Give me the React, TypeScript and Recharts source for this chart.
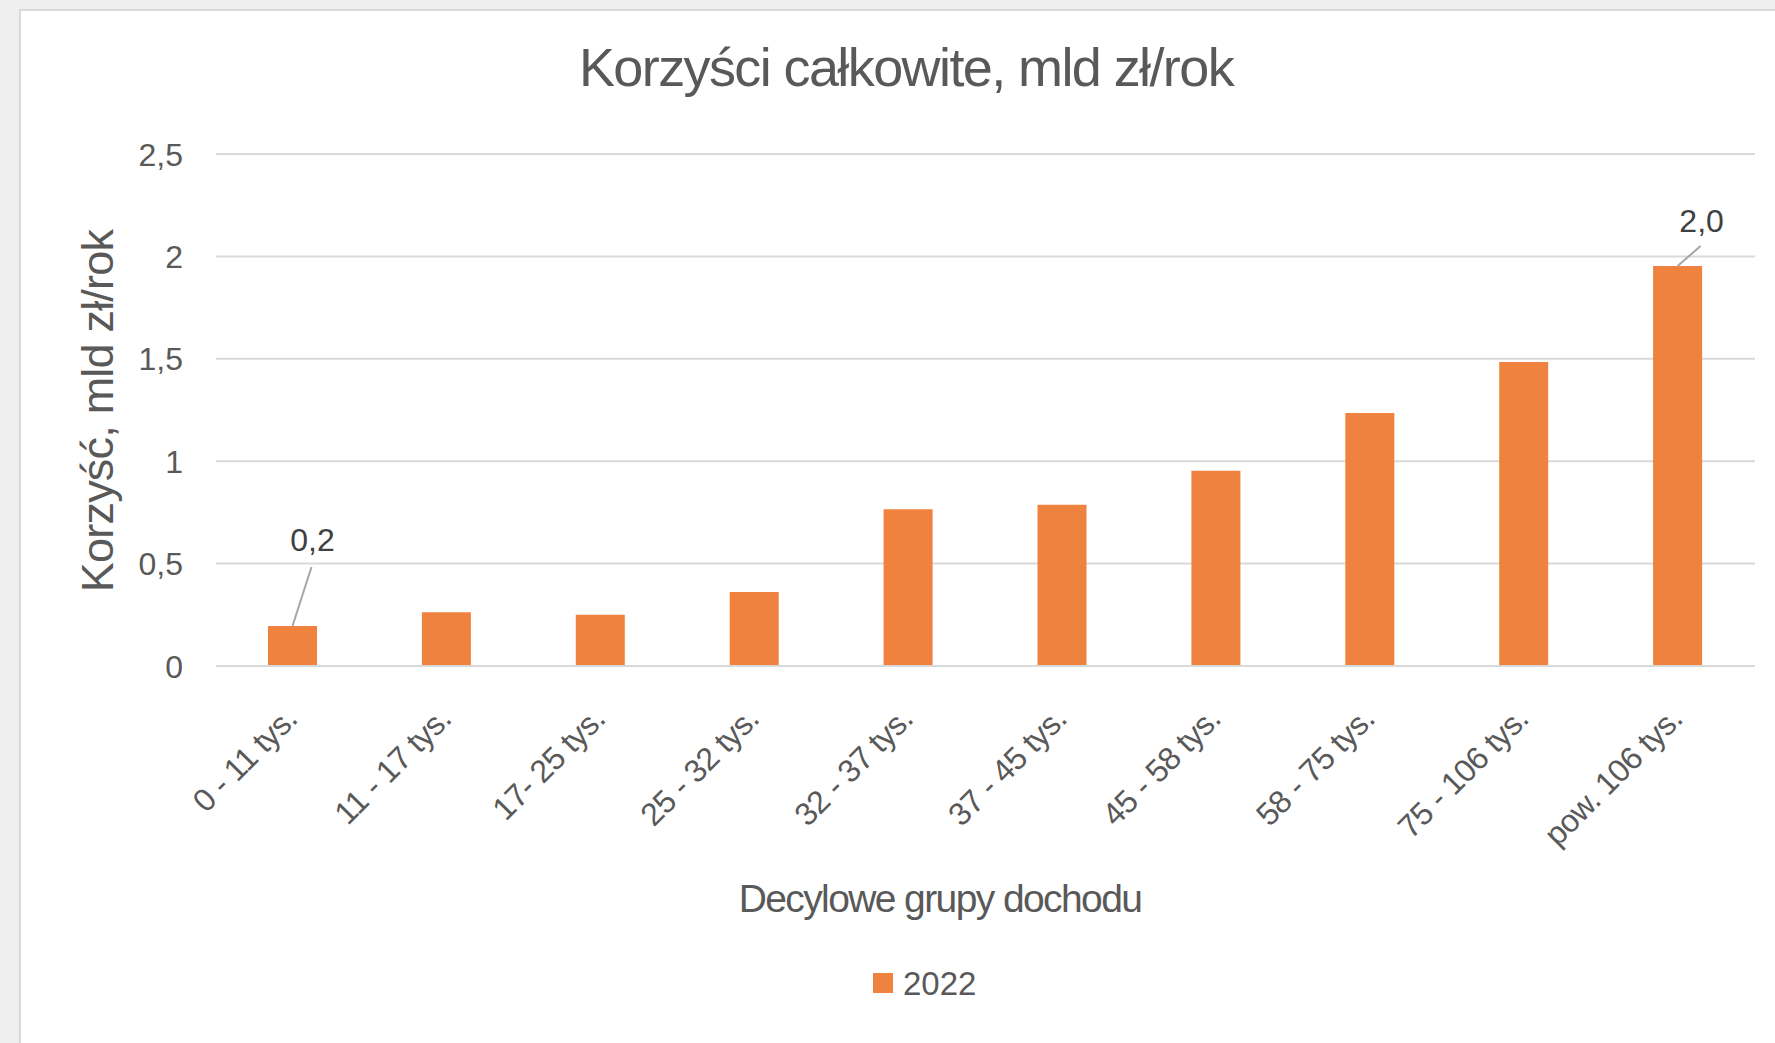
import { BarChart, Bar, XAxis, YAxis, CartesianGrid, Legend, LabelList, Label } from 'recharts'

// dane: korzyści wg decylowych grup dochodu
const categories = [
  '0 - 11 tys.',
  '11 - 17 tys.',
  '17- 25 tys.',
  '25 - 32 tys.',
  '32 - 37 tys.',
  '37 - 45 tys.',
  '45 - 58 tys.',
  '58 - 75 tys.',
  '75 - 106 tys.',
  'pow. 106 tys.',
]
const values2022 = [0.195, 0.262, 0.25, 0.361, 0.765, 0.787, 0.953, 1.235, 1.484, 1.953]
const yTicks = [0, 0.5, 1, 1.5, 2, 2.5]
const seriesName = '2022'

const FONT = '"Liberation Sans", Arial, sans-serif'
const TEXT = '#595959'
const GRID = '#d9d9d9'
const ORANGE = '#f0823f'

// etykiety danych tylko dla pierwszego i ostatniego słupka (z linią odniesienia)
const LABEL_OFFSETS: Record<number, { lx: number; ly: number; tx: number; ty: number }> = {
  0: { lx: 19, ly: -59, tx: 20, ty: -75 },
  9: { lx: 23, ly: -20, tx: 24, ty: -34 },
}

const data = categories.map((name, i) => ({ name, v2022: values2022[i] }))

const fmt = (v: number) => String(v).replace('.', ',')
const fmt1 = (v: number) => v.toFixed(1).replace('.', ',')

const XTick = ({ x, y, payload }: any) => (
  <g transform={`translate(${x + 6},${y + 47})`}>
    <text transform="rotate(-45)" textAnchor="end" fill={TEXT} fontSize={32} fontFamily={FONT} letterSpacing={-0.6}>
      {payload.value}
    </text>
  </g>
)

const YTick = ({ y, payload }: any) => (
  <text x={183} y={y} dy="0.36em" textAnchor="end" fill={TEXT} fontSize={32} fontFamily={FONT}>
    {fmt(payload.value)}
  </text>
)

const renderDataLabel = (props: any) => {
  const { x, y, width, value, index } = props
  const off = LABEL_OFFSETS[index]
  if (!off) return null
  const cx = Number(x) + Number(width) / 2
  const top = Number(y)
  return (
    <g>
      <line x1={cx} y1={top} x2={cx + off.lx} y2={top + off.ly} stroke="#a6a6a6" strokeWidth={2} />
      <text x={cx + off.tx} y={top + off.ty} textAnchor="middle" fill="#404040" fontSize={32} fontFamily={FONT}>
        {fmt1(Number(value))}
      </text>
    </g>
  )
}

const LegendContent = () => (
  <div style={{ display: 'flex', alignItems: 'center', height: 36, fontFamily: FONT }}>
    <span style={{ width: 20, height: 20, background: ORANGE, marginRight: 10, display: 'inline-block' }} />
    <span style={{ fontSize: 33, color: TEXT, lineHeight: 1 }}>{seriesName}</span>
  </div>
)

export default function App() {
  return (
    <div style={{ position: 'absolute', left: 0, top: 0, width: 1775, height: 1043, background: '#efefef', overflow: 'hidden' }}>
      <div
        style={{
          position: 'absolute',
          left: 19,
          top: 9,
          width: 1800,
          height: 1100,
          background: '#fff',
          border: `2px solid ${GRID}`,
        }}
      />
      <div style={{ position: 'absolute', left: 0, top: 0 }}>
        <BarChart width={1775} height={1043} data={data} margin={{ top: 154, right: 20, bottom: 0, left: 0 }}>
          <text x={906} y={86} textAnchor="middle" fill={TEXT} fontSize={54} fontFamily={FONT} letterSpacing={-1.6}>
            Korzyści całkowite, mld zł/rok
          </text>
          <CartesianGrid vertical={false} stroke={GRID} strokeWidth={2} />
          <XAxis
            dataKey="name"
            interval={0}
            height={377}
            tickLine={false}
            axisLine={{ stroke: GRID, strokeWidth: 2 }}
            tick={<XTick />}
          >
            <Label
              content={() => (
                <text x={940} y={912} textAnchor="middle" fill={TEXT} fontSize={39} fontFamily={FONT} letterSpacing={-1.6}>
                  Decylowe grupy dochodu
                </text>
              )}
            />
          </XAxis>
          <YAxis
            width={216}
            domain={[0, 2.5]}
            ticks={yTicks}
            axisLine={false}
            tickLine={false}
            tick={<YTick />}
          >
            <Label
              content={() => (
                <text
                  transform="translate(113,411) rotate(-90)"
                  textAnchor="middle"
                  fill={TEXT}
                  fontSize={45}
                  fontFamily={FONT}
                  letterSpacing={-0.8}
                >
                  Korzyść, mld zł/rok
                </text>
              )}
            />
          </YAxis>
          <Legend
            layout="horizontal"
            verticalAlign="middle"
            align="center"
            wrapperStyle={{ top: 965, left: 873, width: 'auto' }}
            content={<LegendContent />}
          />
          <Bar dataKey="v2022" name={seriesName} fill={ORANGE} barSize={49} isAnimationActive={false}>
            <LabelList dataKey="v2022" content={renderDataLabel} />
          </Bar>
        </BarChart>
      </div>
    </div>
  )
}
